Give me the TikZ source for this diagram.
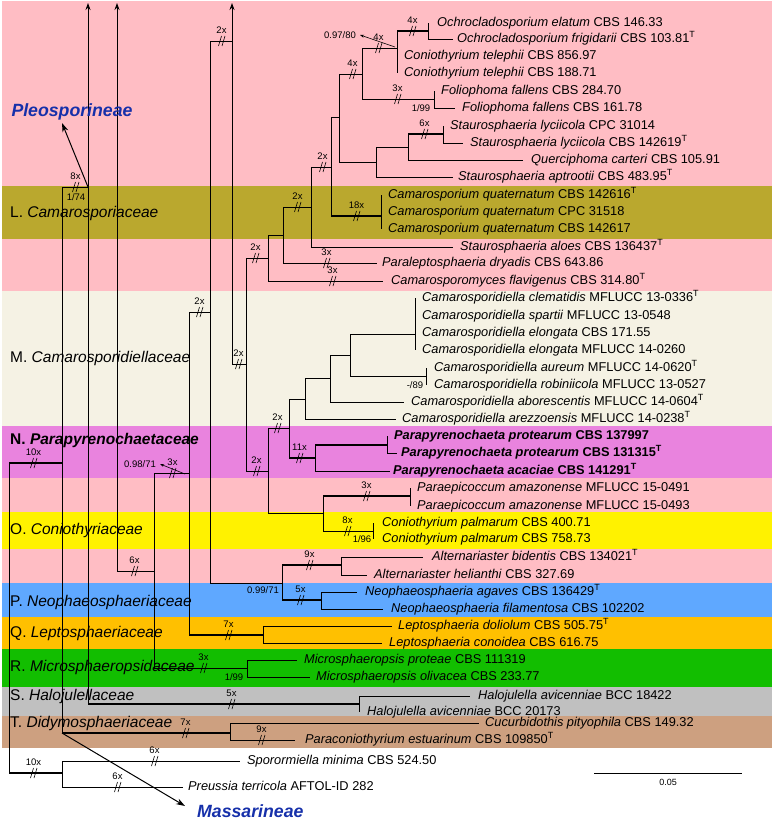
\documentclass[tikz,border=0pt]{standalone}
\usepackage{fontspec}
\setmainfont{Liberation Sans}
\usepackage{tikz}
\usetikzlibrary{arrows.meta, positioning}

\definecolor{BandPink}{RGB}{255,189,196}
\definecolor{BandOlive}{RGB}{186,168,46}
\definecolor{BandCream}{RGB}{245,242,228}
\definecolor{BandMagenta}{RGB}{233,131,222}
\definecolor{BandYellow}{RGB}{255,242,0}
\definecolor{BandBlue}{RGB}{95,168,255}
\definecolor{BandOrange}{RGB}{255,192,0}
\definecolor{BandGreen}{RGB}{18,190,0}
\definecolor{BandGray}{RGB}{192,192,192}
\definecolor{BandTan}{RGB}{205,160,128}
\definecolor{CladeBlue}{RGB}{22,48,170}

\newcommand{\txn}[2]{\textit{#1} #2}
\newcommand{\typeT}{\textsuperscript{T}}

\tikzset{
  br/.style={line width=0.9pt, draw=black},
  thk/.style={line width=2.6pt, draw=black},
  taxon/.style={font=\fontsize{12.8}{14}\selectfont, inner sep=0pt,
                text height=9.2pt, text depth=2.7pt},
  fam/.style={font=\fontsize{15.5}{18}\selectfont, anchor=west, inner sep=0pt},
  suplbl/.style={font=\fontsize{9.5}{11}\selectfont, inner sep=0pt},
  clade/.style={font=\fontsize{17.7}{20}\selectfont\bfseries\itshape,
                text=CladeBlue, inner sep=0pt},
  uparr/.style={br, -{Stealth[length=7pt, width=5pt]}},
  cladearr/.style={line width=1pt, -{Stealth[length=9pt, width=6pt]}},
  suparr/.style={line width=0.6pt, -{Stealth[length=4pt, width=3pt]}},
  pics/brk/.style={code={
      \draw[line width=0.6pt] (-3.5,5) -- (-0.5,-5) (0,5) -- (3,-5);
      \node[suplbl] at (-0.5,-11) {#1};}},
}

\begin{document}
\begin{tikzpicture}[x=1pt, y=-1pt]
  \useasboundingbox (0,0) rectangle (774,824);

  % family bands
  \fill[BandPink]    (2,1)   rectangle (772,186);
  \fill[BandOlive]   (2,186) rectangle (772,239);
  \fill[BandPink]    (2,239) rectangle (772,291);
  \fill[BandCream]   (2,291) rectangle (772,426);
  \fill[BandMagenta] (2,426) rectangle (772,478);
  \fill[BandPink]    (2,478) rectangle (772,512);
  \fill[BandYellow]  (2,512) rectangle (772,549);
  \fill[BandPink]    (2,549) rectangle (772,583);
  \fill[BandBlue]    (2,583) rectangle (772,617);
  \fill[BandOrange]  (2,617) rectangle (772,649);
  \fill[BandGreen]   (2,649) rectangle (772,687);
  \fill[BandGray]    (2,687) rectangle (772,716);
  \fill[BandTan]     (2,716) rectangle (772,748);

  \node[fam] (famL) at (10,213) {L. \textit{Camarosporiaceae}};
  \node[fam] (famM) at (10,358) {M. \textit{Camarosporidiellaceae}};
  \node[fam, font=\fontsize{15.5}{18}\selectfont\bfseries] (famN) at (10,440) {N. \textit{Parapyrenochaetaceae}};
  \node[fam] (famO) at (10,530) {O. \textit{Coniothyriaceae}};
  \node[fam] (famP) at (10,602) {P. \textit{Neophaeosphaeriaceae}};
  \node[fam] (famQ) at (10,633) {Q. \textit{Leptosphaeriaceae}};
  \node[fam] (famR) at (10,667) {R. \textit{Microsphaeropsidaceae}};
  \node[fam] (famS) at (10,696) {S. \textit{Halojulellaceae}};
  \node[fam] (famT) at (10,723) {T. \textit{Didymosphaeriaceae}};

  % internal nodes
  \coordinate (r0)    at (9,618);
  \coordinate (nPM)   at (62,463);
  \coordinate (nOut)  at (62,773);
  \coordinate (nPle)  at (88,187);
  \coordinate (aPle)  at (88,3);
  \coordinate (nHal)  at (359,704);
  \coordinate (nDid)  at (230,733);
  \coordinate (nUp2)  at (117,571);
  \coordinate (aUp2)  at (117,3);
  \coordinate (n154)  at (154,571);
  \coordinate (n189)  at (189,473);
  \coordinate (nMic)  at (247,668);
  \coordinate (n210)  at (210,312);
  \coordinate (nLep)  at (263,635);
  \coordinate (n232)  at (232,41);
  \coordinate (aUp3)  at (232,3);
  \coordinate (nNeo)  at (282,583);
  \coordinate (nAlt)  at (341,565);
  \coordinate (nNph)  at (321,600);
  \coordinate (n246)  at (246,364);
  \coordinate (n268a) at (268,258);
  \coordinate (n268b) at (268,471);
  \coordinate (n283)  at (283,235);
  \coordinate (n311)  at (311,207);
  \coordinate (n331)  at (331,167);
  \coordinate (n339)  at (339,117);
  \coordinate (nCam)  at (381,216);
  \coordinate (n362)  at (362,74);
  \coordinate (n376)  at (376,162);
  \coordinate (n397)  at (397,48);
  \coordinate (nFol)  at (434,99);
  \coordinate (nOch)  at (428,31);
  \coordinate (n408)  at (408,147);
  \coordinate (nSly)  at (443,134);
  \coordinate (n289)  at (289,428);
  \coordinate (n323)  at (323,513);
  \coordinate (nPar)  at (315,458);
  \coordinate (nPpr)  at (387,445);
  \coordinate (nPep)  at (410,496);
  \coordinate (nCpl)  at (373,531);
  \coordinate (nCsA)  at (305,399);
  \coordinate (nCsB)  at (330,378);
  \coordinate (nCsC)  at (350,355);
  \coordinate (nCs1)  at (415,334);
  \coordinate (nCs2)  at (426,376);

  % tips
  \coordinate (c01) at (428,23);  \coordinate (c02) at (453,39);
  \coordinate (c03) at (397,56);  \coordinate (c04) at (397,73);
  \coordinate (c05) at (434,91);  \coordinate (c06) at (455,108);
  \coordinate (c07) at (443,126); \coordinate (c08) at (463,143);
  \coordinate (c09) at (523,160); \coordinate (c10) at (453,177);
  \coordinate (c11) at (381,195); \coordinate (c12) at (381,212);
  \coordinate (c13) at (381,229); \coordinate (c14) at (453,247);
  \coordinate (c15) at (377,263); \coordinate (c16) at (383,281);
  \coordinate (c17) at (415,298); \coordinate (c18) at (415,316);
  \coordinate (c19) at (415,333); \coordinate (c20) at (415,350);
  \coordinate (c21) at (426,368); \coordinate (c22) at (426,385);
  \coordinate (c23) at (404,402); \coordinate (c24) at (396,419);
  \coordinate (c25) at (387,436); \coordinate (c26) at (397,453);
  \coordinate (c27) at (390,471); \coordinate (c28) at (410,488);
  \coordinate (c29) at (410,506); \coordinate (c30) at (373,523);
  \coordinate (c31) at (373,539); \coordinate (c32) at (423,557);
  \coordinate (c33) at (367,575); \coordinate (c34) at (357,592);
  \coordinate (c35) at (383,609); \coordinate (c36) at (392,626);
  \coordinate (c37) at (382,643); \coordinate (c38) at (297,660);
  \coordinate (c39) at (310,677); \coordinate (c40) at (470,696);
  \coordinate (c41) at (359,712); \coordinate (c42) at (479,723);
  \coordinate (c43) at (295,740); \coordinate (c44) at (240,761);
  \coordinate (c45) at (183,787);

  % branches
  \draw[br] (r0) |- (nPM) (r0) |- (nOut);
  \draw[br] (nPM) |- (nPle) (nPM) |- (nDid);
  \draw[br] (nPle) |- (nHal) (nHal) |- (c40) (nHal) |- (c41);
  \draw[br] (nDid) |- (c42) (nDid) |- (c43);
  \draw[br] (nOut) |- (c44) (nOut) |- (c45);
  \draw[br] (nUp2) -- (n154) (n154) |- (n189) (n154) |- (nMic);
  \draw[br] (nMic) |- (c38) (nMic) |- (c39);
  \draw[br] (n189) |- (n210) (n189) |- (nLep) (nLep) |- (c36) (nLep) |- (c37);
  \draw[br] (n210) |- (n232) (n210) |- (nNeo);
  \draw[br] (nNeo) |- (nAlt) (nNeo) |- (nNph);
  \draw[br] (nAlt) |- (c32) (nAlt) |- (c33) (nNph) |- (c34) (nNph) |- (c35);
  \draw[br] (n232) |- (n246) (n246) |- (n268a) (n246) |- (n268b);
  \draw[br] (n268a) |- (n283) (n268a) |- (c16);
  \draw[br] (n283) |- (n311) (n283) |- (c15);
  \draw[br] (n311) |- (n331) (n311) |- (c14);
  \draw[br] (n331) |- (n339) (n331) |- (nCam);
  \draw[br] (nCam) |- (c11) (nCam) |- (c12) (nCam) |- (c13);
  \draw[br] (n339) |- (n362) (n339) |- (n376);
  \draw[br] (n362) |- (n397) (n362) |- (nFol);
  \draw[br] (n397) |- (nOch) (n397) |- (c03) (n397) |- (c04);
  \draw[br] (nOch) |- (c01) (nOch) |- (c02);
  \draw[br] (nFol) |- (c05) (nFol) |- (c06);
  \draw[br] (n376) |- (n408) (n376) |- (c10);
  \draw[br] (n408) |- (nSly) (n408) |- (c09);
  \draw[br] (nSly) |- (c07) (nSly) |- (c08);
  \draw[br] (n268b) |- (n289) (n268b) |- (n323);
  \draw[br] (n289) |- (nCsA) (n289) |- (nPar);
  \draw[br] (nPar) |- (nPpr) (nPar) |- (c27) (nPpr) |- (c25) (nPpr) |- (c26);
  \draw[br] (n323) |- (nPep) (n323) |- (nCpl);
  \draw[br] (nPep) |- (c28) (nPep) |- (c29) (nCpl) |- (c30) (nCpl) |- (c31);
  \draw[br] (nCsA) |- (nCsB) (nCsA) |- (c24);
  \draw[br] (nCsB) |- (nCsC) (nCsB) |- (c23);
  \draw[br] (nCsC) |- (nCs1) (nCsC) |- (nCs2);
  \draw[br] (nCs1) |- (c17) (nCs1) |- (c18) (nCs1) |- (c19) (nCs1) |- (c20);
  \draw[br] (nCs2) |- (c21) (nCs2) |- (c22);

  % thick branches
  \draw[thk] (r0 |- nPM) -- (nPM) (r0 |- nOut) -- (nOut);
  \draw[thk] (nPM |- nDid) -- (nDid) (nPle |- nHal) -- (nHal);
  \draw[thk] (n189 |- nLep) -- (nLep) (nNeo |- nAlt) -- (nAlt) (nNeo |- nNph) -- (nNph);
  \draw[thk] (n331 |- nCam) -- (nCam) (n397 |- nOch) -- (nOch) (n408 |- nSly) -- (nSly);
  \draw[thk] (n289 |- nPar) -- (nPar) (nPar |- nPpr) -- (nPpr) (n323 |- nPep) -- (nPep);

  % lines running up to the families above
  \draw[uparr] (nPle) -- (aPle);
  \draw[uparr] (nUp2) -- (aUp2);
  \draw[uparr] (n232) -- (aUp3);

  % breaks
  \pic at (413,31)  {brk=4x};  \pic at (379,48)  {brk=4x};
  \pic at (353,74)  {brk=4x};  \pic at (398,99)  {brk=3x};
  \pic at (425,134) {brk=6x};  \pic at (323,167) {brk=2x};
  \pic at (357,216) {brk=18x}; \pic at (298,207) {brk=2x};
  \pic at (327,263) {brk=3x};  \pic at (333,281) {brk=3x};
  \pic at (256,258) {brk=2x};  \pic at (257,471) {brk=2x};
  \pic at (278,428) {brk=2x};  \pic at (300,458) {brk=11x};
  \pic at (367,496) {brk=3x};  \pic at (348,531) {brk=8x};
  \pic at (222,41)  {brk=2x};  \pic at (239,364) {brk=2x};
  \pic at (200,312) {brk=2x};  \pic at (173,473) {brk=3x};
  \pic at (135,571) {brk=6x};  \pic at (310,565) {brk=9x};
  \pic at (301,600) {brk=5x};  \pic at (229,635) {brk=7x};
  \pic at (204,668) {brk=3x};  \pic at (232,704) {brk=5x};
  \pic at (186,733) {brk=7x};  \pic at (262,740) {brk=9x};
  \pic at (34,463)  {brk=10x}; \pic at (76,187)  {brk=8x};
  \pic at (34,773)  {brk=10x}; \pic at (155,761) {brk=6x};
  \pic at (118,787) {brk=6x};

  % support values
  \node[suplbl] (s9780) at (340,35)  {0.97/80};
  \coordinate (s9780a) at (395,47);
  \draw[suparr] (s9780a) -- ([xshift=4pt]s9780.east);
  \node[suplbl] (s199a) at (421,108) {1/99};
  \node[suplbl] (s174)  at (76,197)  {1/74};
  \node[suplbl] (s89)   at (415,385) {-/89};
  \node[suplbl] (s9871) at (140,464) {0.98/71};
  \coordinate (s9871a) at (185,474);
  \draw[suparr] (s9871a) -- ([xshift=4pt]s9871.east);
  \node[suplbl] (s196)  at (362,539) {1/96};
  \node[suplbl] (s9971) at (263,590) {0.99/71};
  \node[suplbl] (s199b) at (234,677) {1/99};

  % taxa
  \node[taxon, right=9pt of c01] (t01) {\txn{Ochrocladosporium elatum}{CBS 146.33}};
  \node[taxon, right=4pt of c02] (t02) {\txn{Ochrocladosporium frigidarii}{CBS 103.81\typeT}};
  \node[taxon, right=7pt of c03] (t03) {\txn{Coniothyrium telephii}{CBS 856.97}};
  \node[taxon, right=7pt of c04] (t04) {\txn{Coniothyrium telephii}{CBS 188.71}};
  \node[taxon, right=7pt of c05] (t05) {\txn{Foliophoma fallens}{CBS 284.70}};
  \node[taxon, right=7pt of c06] (t06) {\txn{Foliophoma fallens}{CBS 161.78}};
  \node[taxon, right=7pt of c07] (t07) {\txn{Staurosphaeria lyciicola}{CPC 31014}};
  \node[taxon, right=7pt of c08] (t08) {\txn{Staurosphaeria lyciicola}{CBS 142619\typeT}};
  \node[taxon, right=8pt of c09] (t09) {\txn{Querciphoma carteri}{CBS 105.91}};
  \node[taxon, right=5pt of c10] (t10) {\txn{Staurosphaeria aptrootii}{CBS 483.95\typeT}};
  \node[taxon, right=7pt of c11] (t11) {\txn{Camarosporium quaternatum}{CBS 142616\typeT}};
  \node[taxon, right=7pt of c12] (t12) {\txn{Camarosporium quaternatum}{CPC 31518}};
  \node[taxon, right=7pt of c13] (t13) {\txn{Camarosporium quaternatum}{CBS 142617}};
  \node[taxon, right=7pt of c14] (t14) {\txn{Staurosphaeria aloes}{CBS 136437\typeT}};
  \node[taxon, right=5pt of c15] (t15) {\txn{Paraleptosphaeria dryadis}{CBS 643.86}};
  \node[taxon, right=8pt of c16] (t16) {\txn{Camarosporomyces flavigenus}{CBS 314.80\typeT}};
  \node[taxon, right=7pt of c17] (t17) {\txn{Camarosporidiella clematidis}{MFLUCC 13-0336\typeT}};
  \node[taxon, right=7pt of c18] (t18) {\txn{Camarosporidiella spartii}{MFLUCC 13-0548}};
  \node[taxon, right=7pt of c19] (t19) {\txn{Camarosporidiella elongata}{CBS 171.55}};
  \node[taxon, right=7pt of c20] (t20) {\txn{Camarosporidiella elongata}{MFLUCC 14-0260}};
  \node[taxon, right=8pt of c21] (t21) {\txn{Camarosporidiella aureum}{MFLUCC 14-0620\typeT}};
  \node[taxon, right=8pt of c22] (t22) {\txn{Camarosporidiella robiniicola}{MFLUCC 13-0527}};
  \node[taxon, right=7pt of c23] (t23) {\txn{Camarosporidiella aborescentis}{MFLUCC 14-0604\typeT}};
  \node[taxon, right=6pt of c24] (t24) {\txn{Camarosporidiella arezzoensis}{MFLUCC 14-0238\typeT}};
  \node[taxon, right=7pt of c25] (t25) {\bfseries\txn{Parapyrenochaeta protearum}{CBS 137997}};
  \node[taxon, right=4pt of c26] (t26) {\bfseries\txn{Parapyrenochaeta protearum}{CBS 131315\typeT}};
  \node[taxon, right=3pt of c27] (t27) {\bfseries\txn{Parapyrenochaeta acaciae}{CBS 141291\typeT}};
  \node[taxon, right=7pt of c28] (t28) {\txn{Paraepicoccum amazonense}{MFLUCC 15-0491}};
  \node[taxon, right=7pt of c29] (t29) {\txn{Paraepicoccum amazonense}{MFLUCC 15-0493}};
  \node[taxon, right=9pt of c30] (t30) {\txn{Coniothyrium palmarum}{CBS 400.71}};
  \node[taxon, right=9pt of c31] (t31) {\txn{Coniothyrium palmarum}{CBS 758.73}};
  \node[taxon, right=9pt of c32] (t32) {\txn{Alternariaster bidentis}{CBS 134021\typeT}};
  \node[taxon, right=7pt of c33] (t33) {\txn{Alternariaster helianthi}{CBS 327.69}};
  \node[taxon, right=8pt of c34] (t34) {\txn{Neophaeosphaeria agaves}{CBS 136429\typeT}};
  \node[taxon, right=8pt of c35] (t35) {\txn{Neophaeosphaeria filamentosa}{CBS 102202}};
  \node[taxon, right=6pt of c36] (t36) {\txn{Leptosphaeria doliolum}{CBS 505.75\typeT}};
  \node[taxon, right=7pt of c37] (t37) {\txn{Leptosphaeria conoidea}{CBS 616.75}};
  \node[taxon, right=7pt of c38] (t38) {\txn{Microsphaeropsis proteae}{CBS 111319}};
  \node[taxon, right=6pt of c39] (t39) {\txn{Microsphaeropsis olivacea}{CBS 233.77}};
  \node[taxon, right=8pt of c40] (t40) {\txn{Halojulella avicenniae}{BCC 18422}};
  \node[taxon, right=8pt of c41] (t41) {\txn{Halojulella avicenniae}{BCC 20173}};
  \node[taxon, right=6pt of c42] (t42) {\txn{Cucurbidothis pityophila}{CBS 149.32}};
  \node[taxon, right=10pt of c43] (t43) {\txn{Paraconiothyrium estuarinum}{CBS 109850\typeT}};
  \node[taxon, right=7pt of c44] (t44) {\txn{Sporormiella minima}{CBS 524.50}};
  \node[taxon, right=5pt of c45] (t45) {\txn{Preussia terricola}{AFTOL-ID 282}};

  % suborders
  \node[clade] (ple) at (72,112) {Pleosporineae};
  \coordinate (pleTip) at (62,123);
  \draw[cladearr] (nPle) -- (pleTip);
  \node[clade, anchor=west] (mas) at (197,811) {Massarineae};
  \coordinate (masTip) at (185,806);
  \draw[cladearr] (nPM |- nDid) -- (masTip);

  % scale bar
  \coordinate (sb1) at (594,773);
  \coordinate (sb2) at (742,773);
  \draw[br] (sb1) -- (sb2) node[midway, below=6pt, suplbl, font=\fontsize{9}{10}\selectfont] (sbl) {0.05};
\end{tikzpicture}
\end{document}
